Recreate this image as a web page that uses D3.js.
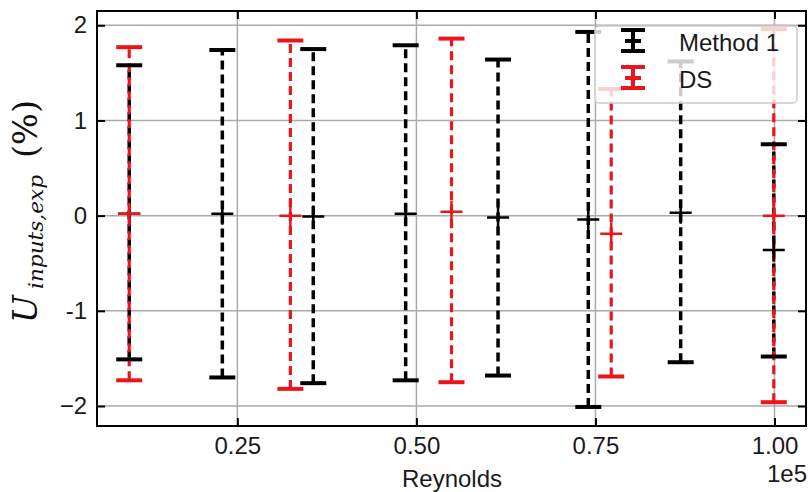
<!DOCTYPE html>
<html>
<head>
<meta charset="utf-8">
<script src="https://cdn.jsdelivr.net/npm/d3@7"></script>
<style>
  html, body { margin: 0; padding: 0; background: #fff; }
  svg { display: block; }
</style>
</head>
<body>
<svg id="chart" width="808" height="492"></svg>
<script>
// ---- data ----
const m1Reynolds = [9900, 22900, 35600, 48500, 61400, 74000, 86900, 99900];
const m1Center   = [0.02, 0.02, -0.01, 0.02, -0.02, -0.04, 0.03, -0.36];
const m1Upper    = [1.58, 1.74, 1.75, 1.79, 1.64, 1.93, 1.62, 0.75];
const m1Lower    = [-1.51, -1.70, -1.76, -1.73, -1.68, -2.01, -1.54, -1.48];

const dsReynolds = [9900, 32400, 54900, 77200, 99900];
const dsCenter   = [0.02, 0.00, 0.04, -0.19, 0.00];
const dsUpper    = [1.77, 1.84, 1.86, 1.33, 1.96];
const dsLower    = [-1.73, -1.82, -1.75, -1.69, -1.96];

const xTickValues = [25000, 50000, 75000, 100000];
const xTickLabels = ["0.25", "0.50", "0.75", "1.00"];
const yTickValues = [2, 1, 0, -1, -2];
const yTickLabels = ["2", "1", "0", "-1", "\u22122"];
const seriesNames = ["Method 1", "DS"];

// ---- layout ----
const svg = d3.select("#chart");
const L = 97, R = 806, T = 11, B = 426;
const x = d3.scaleLinear().domain([5400, 104400]).range([L, R]);
const y = d3.scaleLinear().domain([-2.21, 2.15]).range([B, T]);

const series = [
  { name: seriesNames[0], color: "#000000", re: m1Reynolds, c: m1Center, hi: m1Upper, lo: m1Lower, w: 3.5 },
  { name: seriesNames[1], color: "#ec1519", re: dsReynolds, c: dsCenter, hi: dsUpper, lo: dsLower, w: 3.2 }
];

// grid
const grid = svg.append("g");
grid.selectAll("line.gx").data(xTickValues).join("line")
  .attr("x1", d => x(d)).attr("x2", d => x(d)).attr("y1", T).attr("y2", B)
  .attr("stroke", "#aaaaaa").attr("stroke-width", 1.5);
grid.selectAll("line.gy").data(yTickValues).join("line")
  .attr("y1", d => y(d)).attr("y2", d => y(d)).attr("x1", L).attr("x2", R)
  .attr("stroke", "#aaaaaa").attr("stroke-width", 1.5);

// error bar lines
const lines = svg.append("g");
series.forEach(s => {
  lines.selectAll(null).data(s.re).join("line")
    .attr("x1", d => x(d)).attr("x2", d => x(d))
    .attr("y1", (d, i) => y(s.lo[i])).attr("y2", (d, i) => y(s.hi[i]))
    .attr("stroke", s.color).attr("stroke-width", s.w)
    .attr("stroke-dasharray", "9,5");
});
// caps and center markers
const caps = svg.append("g");
series.forEach(s => {
  const capW = 13;
  ["hi", "lo"].forEach(k => {
    caps.selectAll(null).data(s.re).join("line")
      .attr("x1", d => x(d) - capW).attr("x2", d => x(d) + capW)
      .attr("y1", (d, i) => y(s[k][i])).attr("y2", (d, i) => y(s[k][i]))
      .attr("stroke", s.color).attr("stroke-width", 4);
  });
});
series.forEach(s => {
  const m = 11;
  const g = caps.append("g");
  g.selectAll(null).data(s.re).join("path")
    .attr("d", (d, i) => {
      const cx = x(d), cy = y(s.c[i]);
      return `M${cx - m},${cy}H${cx + m}M${cx},${cy - m}V${cy + m}`;
    })
    .attr("stroke", s.color).attr("stroke-width", 2.5).attr("fill", "none");
});

// axes (inward ticks on all sides)
const fontTick = "'Liberation Sans', Arial, sans-serif";
const axB = svg.append("g").attr("transform", `translate(0,${B})`)
  .call(d3.axisBottom(x).tickValues(xTickValues).tickSizeInner(-8).tickSizeOuter(0)
    .tickPadding(11).tickFormat((d, i) => xTickLabels[i]));
const axT = svg.append("g").attr("transform", `translate(0,${T})`)
  .call(d3.axisTop(x).tickValues(xTickValues).tickSizeInner(-8).tickSizeOuter(0).tickFormat(""));
const axL = svg.append("g").attr("transform", `translate(${L},0)`)
  .call(d3.axisLeft(y).tickValues(yTickValues).tickSizeInner(-8).tickSizeOuter(0)
    .tickPadding(10).tickFormat((d, i) => yTickLabels[i]));
const axR = svg.append("g").attr("transform", `translate(${R},0)`)
  .call(d3.axisRight(y).tickValues(yTickValues).tickSizeInner(-8).tickSizeOuter(0).tickFormat(""));
[axB, axT, axL, axR].forEach(a => {
  a.select(".domain").remove();
  a.selectAll(".tick line").attr("stroke", "#000").attr("stroke-width", 2);
  a.selectAll(".tick text").attr("font-family", fontTick).attr("font-size", 24).attr("fill", "#1a1a1a");
});
axB.selectAll(".tick text").attr("dy", "0.71em");

// spines
svg.append("rect").attr("x", L).attr("y", T).attr("width", R - L).attr("height", B - T)
  .attr("fill", "none").attr("stroke", "#000").attr("stroke-width", 2);

// axis labels
svg.append("text").attr("x", 452).attr("y", 487).attr("text-anchor", "middle")
  .attr("font-family", fontTick).attr("font-size", 24).attr("fill", "#1a1a1a").text("Reynolds");
svg.append("text").attr("x", 807).attr("y", 482).attr("text-anchor", "end")
  .attr("font-family", fontTick).attr("font-size", 24).attr("fill", "#1a1a1a").text("1e5");

// y label: pieces placed along the rotated axis (reads bottom to top)
const serif = "'DejaVu Serif', 'Liberation Serif', serif";
const yl = svg.append("g").attr("transform", "translate(37,0) rotate(-90)")
  .attr("font-family", serif).attr("fill", "#111");
yl.append("text").attr("x", -323).attr("y", 0).attr("font-style", "italic")
  .attr("font-size", 33).text("U");
yl.append("text").attr("x", -289).attr("y", 6).attr("font-style", "italic")
  .attr("font-size", 21).attr("textLength", 114).attr("lengthAdjust", "spacingAndGlyphs").text("inputs,exp");
yl.append("text").attr("x", -158).attr("y", 0)
  .attr("font-size", 33).attr("textLength", 58).attr("lengthAdjust", "spacingAndGlyphs").text("(%)");

// legend
const lg = svg.append("g");
lg.append("rect").attr("x", 595).attr("y", 26).attr("width", 202).attr("height", 77).attr("rx", 4)
  .attr("fill", "#fff").attr("fill-opacity", 0.8).attr("stroke", "#cccccc").attr("stroke-width", 1.5);
const rows = lg.selectAll("g.row").data(series).join("g")
  .attr("transform", (d, i) => `translate(633,${40 + i * 37})`);
rows.append("line").attr("x1", 0).attr("x2", 0).attr("y1", -10).attr("y2", 11)
  .attr("stroke", d => d.color).attr("stroke-width", 4);
rows.append("path").attr("d", "M-12,-10H12M-12,11H12M-8,1H8")
  .attr("stroke", d => d.color).attr("stroke-width", 4).attr("fill", "none");
rows.append("text").attr("x", 46).attr("y", 11)
  .attr("font-family", fontTick).attr("font-size", 24).attr("fill", "#1a1a1a").text(d => d.name);
</script>
</body>
</html>
